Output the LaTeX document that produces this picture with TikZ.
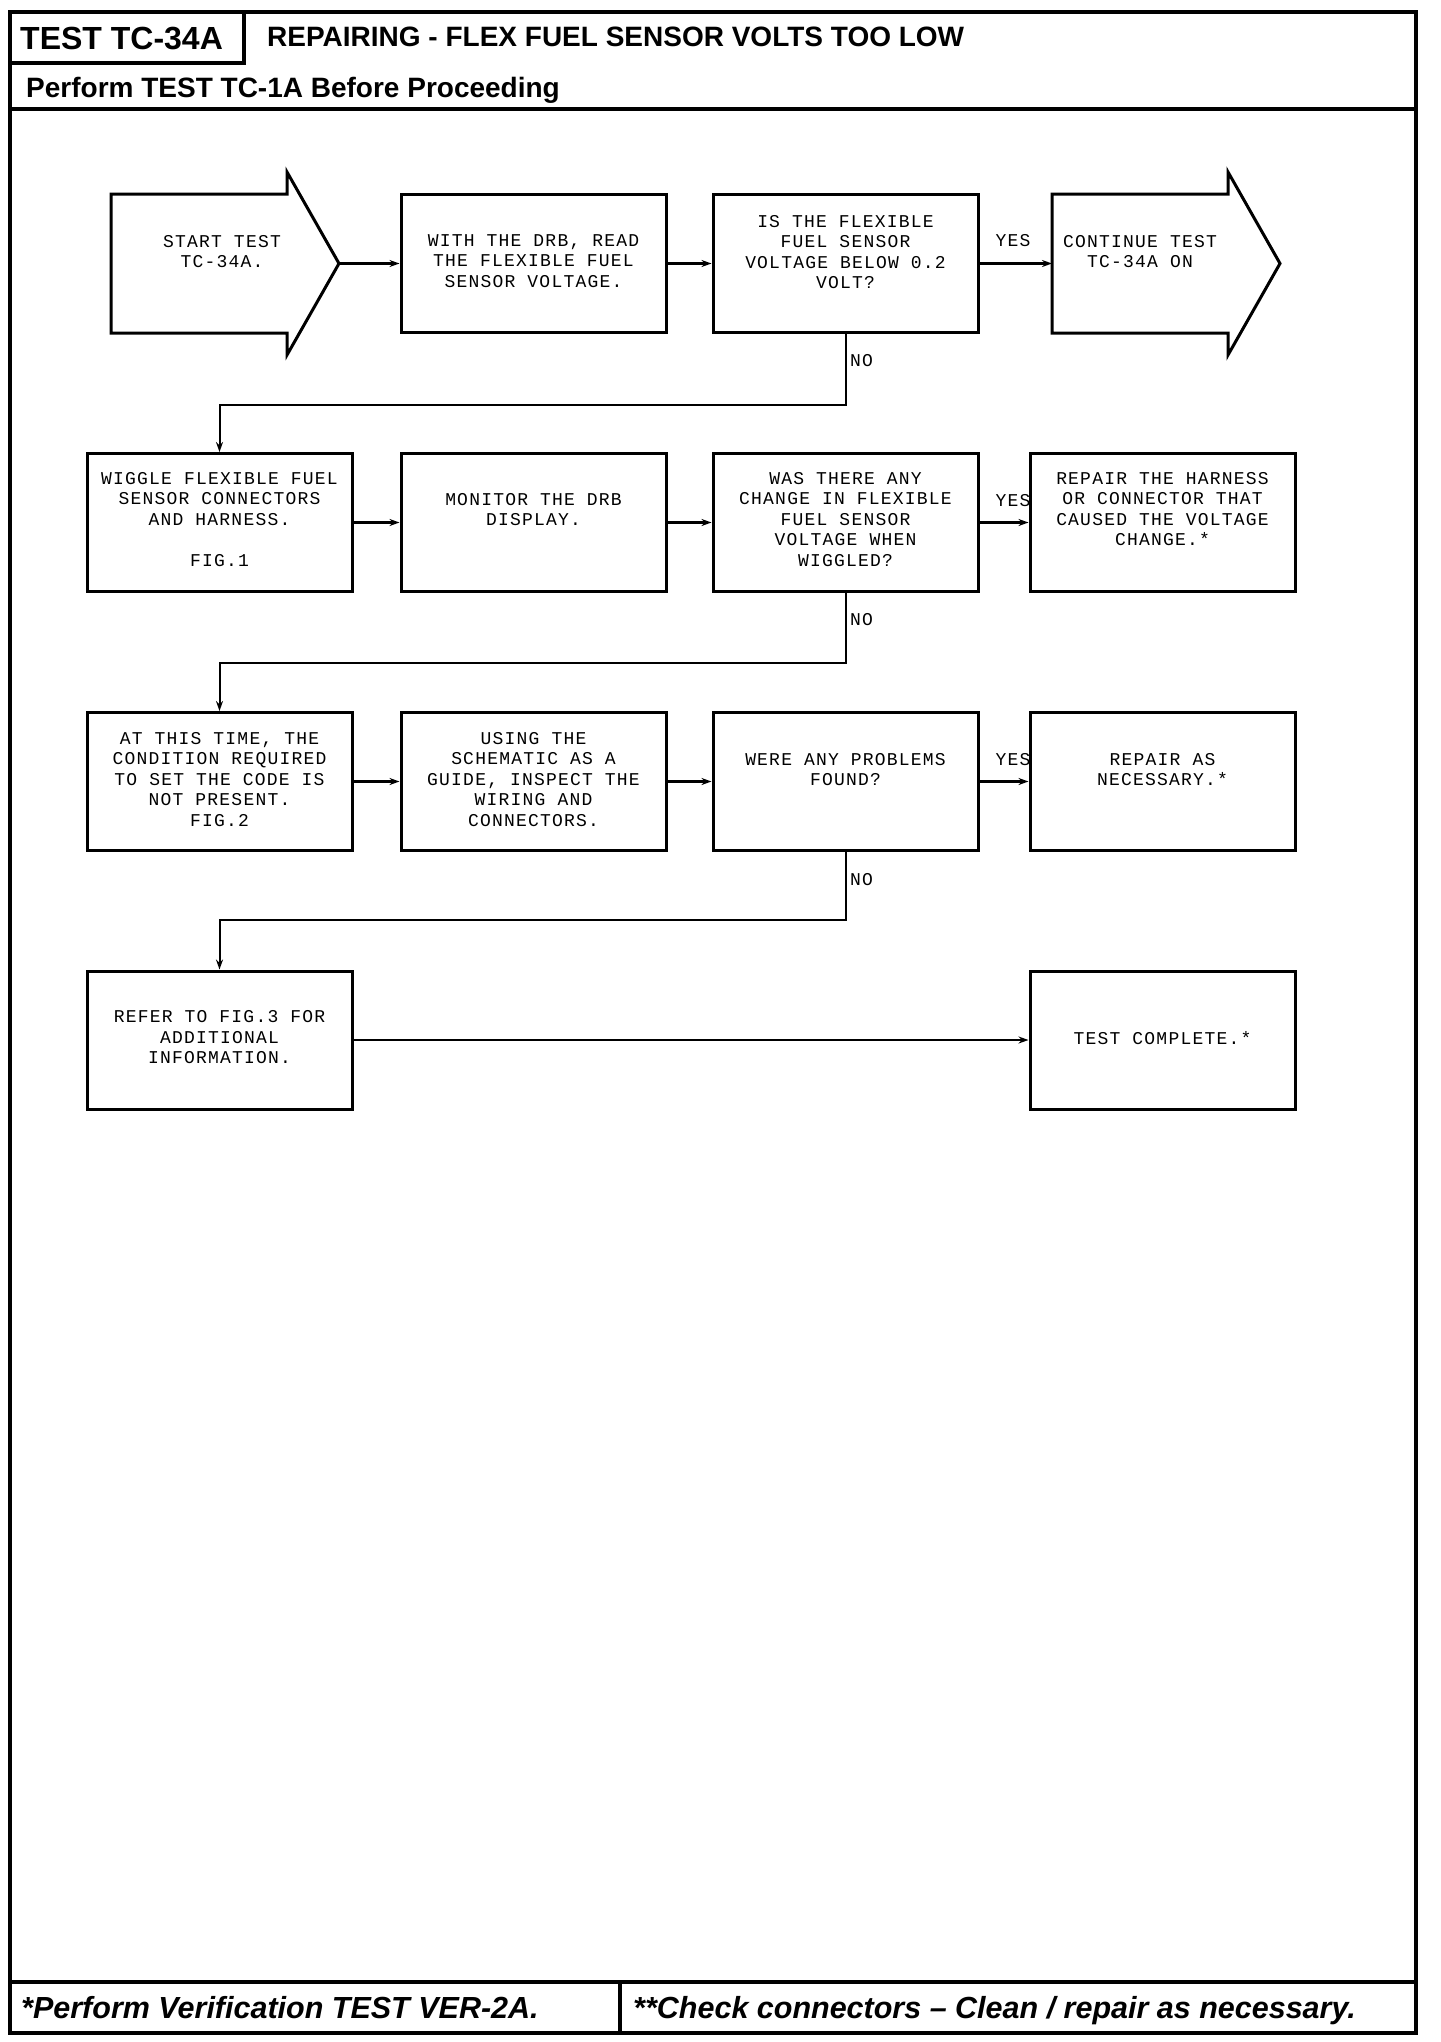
\documentclass[tikz,border=0pt]{standalone}
\usepackage{fontspec}
\setmainfont{Liberation Sans}
\newfontfamily\plotfont{Liberation Mono}[LetterSpace=6.7]
\usepackage{tikz}
\usetikzlibrary{calc}
\usetikzlibrary{arrows.meta}
\tikzset{
  cellbox/.style={draw, line width=3pt, minimum width=265pt, minimum height=138pt, inner sep=0pt},
  celltext/.style={font=\plotfont\fontsize{18}{20.5}\selectfont, align=center, anchor=north, inner sep=0pt},
  answer/.style={font=\plotfont\fontsize{18}{20.5}\selectfont, inner sep=0pt},
  link/.style={line width=2.5pt, -{Stealth[length=10pt,width=7pt]}},
  nolink/.style={line width=2pt, -{Stealth[length=10pt,width=7pt]}},
  frame/.style={line width=3.5pt}
}
\newcommand{\cellnode}[5]{\node[cellbox] (#1) at ( #2 , #3 ) {}; \node[celltext] (#1txt) at ([yshift={6pt-#4pt}]#1.north) {#5};}
\newcommand{\arrowcell}[6]{\draw[line width=3pt, line join=miter] ( #2 ,194) -- ( #3 ,194) -- ( #3 ,172) -- ( #4 ,263.5) -- ( #3 ,355) -- ( #3 ,333) -- ( #2 ,333) -- cycle;
  \coordinate (#1tail) at ( #2 ,263.5);
  \coordinate (#1tip) at ( #4 ,263.5);
  \node[celltext] (#1txt) at ( #5 ,235) {#6};}

\begin{document}
\begin{tikzpicture}[x=1pt,y=-1pt]
        \useasboundingbox (0,0) rectangle (1440,2042);
        % frame
        \draw[frame] (10,12) rectangle (1416,2033);
        \draw[frame] (244,12) -- (244,63) -- (10,63);
        \draw[frame] (10,109) -- (1416,109);
        \draw[frame] (10,1982) -- (1416,1982);
        \draw[frame] (620,1982) -- (620,2033);

        % header
        \node[anchor=base west, inner sep=0pt, font=\bfseries\fontsize{32}{36}\selectfont] (testid) at (20,49) {TEST TC-34A};
        \node[anchor=base west, inner sep=0pt, font=\bfseries\fontsize{28}{32}\selectfont] (title) at (267,47) {REPAIRING - FLEX FUEL SENSOR VOLTS TOO LOW};
        \node[anchor=base west, inner sep=0pt, font=\bfseries\fontsize{28}{32}\selectfont] (before) at (26,97) {Perform TEST TC-1A Before Proceeding};

        % row1
        \arrowcell{start}{111}{287}{339}{222}{START TEST\\TC-34A.}
        \cellnode{readv}{533.5}{263.5}{47}{WITH THE DRB, READ\\THE FLEXIBLE FUEL\\SENSOR VOLTAGE.}
        \cellnode{below}{845.5}{263.5}{28}{IS THE FLEXIBLE\\FUEL SENSOR\\VOLTAGE BELOW 0.2\\VOLT?}
        \arrowcell{cont}{1052}{1228}{1280}{1140}{CONTINUE TEST\\TC-34A ON}

        % row2
        \cellnode{wiggle}{219.5}{522.5}{26}{WIGGLE FLEXIBLE FUEL\\SENSOR CONNECTORS\\AND HARNESS.\\[20.5pt]FIG.1}
        \cellnode{monitor}{533.5}{522.5}{47}{MONITOR THE DRB\\DISPLAY.}
        \cellnode{change}{845.5}{522.5}{26}{WAS THERE ANY\\CHANGE IN FLEXIBLE\\FUEL SENSOR\\VOLTAGE WHEN\\WIGGLED?}
        \cellnode{fixharn}{1162.5}{522.5}{26}{REPAIR THE HARNESS\\OR CONNECTOR THAT\\CAUSED THE VOLTAGE\\CHANGE.*}

        % row3
        \cellnode{nocond}{219.5}{781.5}{27}{AT THIS TIME, THE\\CONDITION REQUIRED\\TO SET THE CODE IS\\NOT PRESENT.\\FIG.2}
        \cellnode{inspect}{533.5}{781.5}{27}{USING THE\\SCHEMATIC AS A\\GUIDE, INSPECT THE\\WIRING AND\\CONNECTORS.}
        \cellnode{probs}{845.5}{781.5}{48}{WERE ANY PROBLEMS\\FOUND?}
        \cellnode{fixnec}{1162.5}{781.5}{48}{REPAIR AS\\NECESSARY.*}

        % row4
        \cellnode{refer}{219.5}{1040}{47}{REFER TO FIG.3 FOR\\ADDITIONAL\\INFORMATION.}
        \cellnode{done}{1162.5}{1040}{68}{TEST COMPLETE.*}

        % connectors row1
        \draw[link] (starttip) -- (readv.west);
        \draw[link] (readv) -- (below);
        \draw[link] (below) -- (conttail);
        \node[answer] (yes1) at (1013,241) {YES};
        \coordinate (bend1) at (845.5,405);
        \draw[nolink] (below) -- (bend1) -| (wiggle);
        \node[answer, anchor=west] (no1) at (850,361) {NO};

        % connectors row2
        \draw[link] (wiggle) -- (monitor);
        \draw[link] (monitor) -- (change);
        \draw[link, line width=3pt] (change) -- (fixharn);
        \node[answer] (yes2) at (1013,501) {YES};
        \coordinate (bend2) at (845.5,663);
        \draw[nolink] (change) -- (bend2) -| (nocond);
        \node[answer, anchor=west] (no2) at (850,620) {NO};

        % connectors row3
        \draw[link] (nocond) -- (inspect);
        \draw[link] (inspect) -- (probs);
        \draw[link] (probs) -- (fixnec);
        \node[answer] (yes3) at (1013,760) {YES};
        \coordinate (bend3) at (845.5,920);
        \draw[nolink] (probs) -- (bend3) -| (refer);
        \node[answer, anchor=west] (no3) at (850,880) {NO};

        % connectors row4
        \draw[nolink] (refer) -- (done);

        % footer
        \node[anchor=base west, inner sep=0pt, font=\bfseries\itshape\fontsize{30.5}{36}\selectfont] (verify) at (21,2018) {*Perform Verification TEST VER-2A.};
        \node[anchor=base west, inner sep=0pt, font=\bfseries\itshape\fontsize{30.5}{36}\selectfont] (checkconn) at (633,2018) {**Check connectors -- Clean / repair as necessary.};
    \end{tikzpicture}
\end{document}
